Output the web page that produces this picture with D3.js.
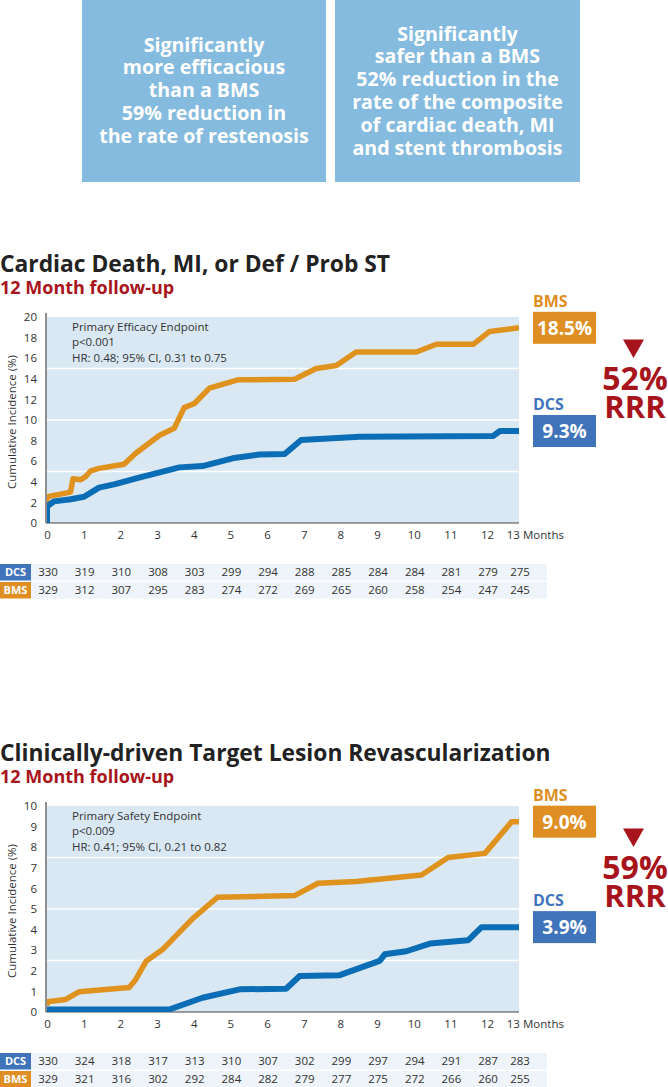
<!DOCTYPE html>
<html><head><meta charset="utf-8">
<script src="https://cdn.jsdelivr.net/npm/d3@7"></script>
<style>
body{margin:0;background:#fff;}
svg text{font-family:"Open Sans",sans-serif;}
</style>
</head><body>
<svg id="chart" width="668" height="1087"></svg>
<script>
// ---------- data ----------
const summaryLeft = ["Significantly","more efficacious","than a BMS","59% reduction in","the rate of restenosis"];
const summaryRight = ["Significantly","safer than a BMS","52% reduction in the","rate of the composite","of cardiac death, MI","and stent thrombosis"];

const monthTicks = [0,1,2,3,4,5,6,7,8,9,10,11,12,12.7];
const monthTickLabels = ["0","1","2","3","4","5","6","7","8","9","10","11","12","13"];
const monthMax = 12.87;

// Chart 1: Cardiac Death, MI, or Def / Prob ST
const title1 = "Cardiac Death, MI, or Def / Prob ST";
const subtitle1 = "12 Month follow-up";
const notes1 = ["Primary Efficacy Endpoint","p<0.001","HR: 0.48; 95% CI, 0.31 to 0.75"];
const yTicks1 = [0,2,4,6,8,10,12,14,16,18,20];
const grid1 = [5,10,15];
const bms1 = [[0,1.8],[0,2.55],[0.64,3.0],[0.71,4.3],[0.92,4.2],[1.05,4.5],[1.19,5.05],[1.42,5.3],[2.1,5.7],[2.42,6.77],[3.06,8.5],[3.47,9.2],[3.74,11.2],[4.02,11.6],[4.43,13.1],[5.2,13.9],[6.75,13.95],[7.34,15.0],[7.89,15.3],[8.43,16.6],[10.07,16.6],[10.62,17.35],[11.62,17.35],[12.07,18.6],[12.87,18.95]];
const dcs1 = [[0,0],[0,1.6],[0.19,2.1],[0.65,2.3],[1.01,2.55],[1.42,3.43],[1.83,3.75],[2.51,4.4],[3.61,5.4],[4.24,5.53],[5.06,6.28],[5.79,6.65],[6.48,6.7],[6.93,8.06],[8.52,8.38],[12.17,8.45],[12.35,8.93],[12.87,8.93]];
const bmsLabel1 = "18.5%";
const dcsLabel1 = "9.3%";
const rrr1 = "52%";
const atRiskDcs1 = [330,319,310,308,303,299,294,288,285,284,284,281,279,275];
const atRiskBms1 = [329,312,307,295,283,274,272,269,265,260,258,254,247,245];

// Chart 2: Clinically-driven TLR
const title2 = "Clinically-driven Target Lesion Revascularization";
const subtitle2 = "12 Month follow-up";
const notes2 = ["Primary Safety Endpoint","p<0.009","HR: 0.41; 95% CI, 0.21 to 0.82"];
const yTicks2 = [0,1,2,3,4,5,6,7,8,9,10];
const grid2 = [2.5,5,7.5];
const bms2 = [[0,0.3],[0,0.5],[0.51,0.61],[0.87,0.98],[2.24,1.19],[2.42,1.58],[2.7,2.46],[3.15,3.03],[3.97,4.53],[4.65,5.57],[6.75,5.65],[7.39,6.25],[8.43,6.34],[10.21,6.65],[10.94,7.5],[11.94,7.7],[12.67,9.24],[12.87,9.24]];
const dcs2 = [[0,0.12],[3.33,0.12],[4.24,0.69],[5.25,1.1],[6.52,1.13],[6.89,1.75],[7.98,1.79],[9.07,2.48],[9.21,2.8],[9.8,2.95],[10.44,3.32],[11.48,3.48],[11.85,4.12],[12.87,4.12]];
const bmsLabel2 = "9.0%";
const dcsLabel2 = "3.9%";
const rrr2 = "59%";
const atRiskDcs2 = [330,324,318,317,313,310,307,302,299,297,294,291,287,283];
const atRiskBms2 = [329,321,316,302,292,284,282,279,277,275,272,266,260,255];

// ---------- style ----------
const C = {
  box: "#85BBDE", orange: "#E0921E", orangeBox: "#DE8E22", blue: "#0A6DB5", blueBox: "#3F74BA",
  red: "#A8141B", plotBg: "#D9E8F3", text: "#333", title: "#222", rowBg: "#EEF4F9"
};

const svg = d3.select("#chart");

// ---------- summary boxes ----------
function summaryBox(lines, x0, x1, firstBaseline) {
  svg.append("rect").attr("x", x0).attr("y", 0).attr("width", x1 - x0).attr("height", 182).attr("fill", C.box);
  svg.append("text").attr("x", (x0 + x1) / 2).attr("y", firstBaseline)
    .attr("text-anchor", "middle").attr("fill", "#fff").attr("font-weight", 700).attr("font-size", 19.6)
    .selectAll("tspan").data(lines).join("tspan")
    .attr("x", (x0 + x1) / 2).attr("dy", (d, i) => i === 0 ? 0 : 22.8).text(d => d);
}
summaryBox(summaryLeft, 82, 326, 51.5);
summaryBox(summaryRight, 335, 580, 40.5);

// ---------- chart ----------
const x = d3.scaleLinear().domain([0, monthMax]).range([47, 519]);

function drawChart(cfg, dy) {
  const g = svg.append("g").attr("transform", `translate(0,${dy})`);
  const y = d3.scaleLinear().domain([0, cfg.yMax]).range([523, 317]);

  g.append("text").attr("x", 0).attr("y", 272).attr("font-size", 22.8).attr("font-weight", 700)
    .attr("fill", C.title).text(cfg.title);
  g.append("text").attr("x", 0).attr("y", 294).attr("font-size", 18).attr("font-weight", 700)
    .attr("fill", C.red).text(cfg.subtitle);

  g.append("rect").attr("x", x(0)).attr("y", y(cfg.yMax)).attr("width", x(monthMax) - x(0))
    .attr("height", y(0) - y(cfg.yMax)).attr("fill", C.plotBg);

  g.selectAll("line.grid").data(cfg.grid).join("line").attr("class", "grid")
    .attr("x1", x(0)).attr("x2", x(monthMax)).attr("y1", d => y(d)).attr("y2", d => y(d))
    .attr("stroke", "#fff").attr("stroke-width", 1.6);

  g.append("g").selectAll("text").data(cfg.notes).join("text")
    .attr("x", 72).attr("y", (d, i) => y(cfg.yMax) + 13.5 + i * 15.5)
    .attr("font-size", 11.5).attr("fill", C.text).text(d => d);

  // axes
  const yAxis = d3.axisLeft(y).tickValues(cfg.yTicks).tickSize(0).tickPadding(9);
  const ya = g.append("g").attr("transform", "translate(46,0)").call(yAxis);
  ya.select(".domain").attr("stroke", "#444").attr("stroke-width", 1.2).attr("d", `M0,${y(cfg.yMax) - 4}V${y(0)}`);
  ya.selectAll("text").attr("font-size", 11.5).attr("fill", C.text).attr("font-family", "Open Sans");

  const xAxis = d3.axisBottom(x).tickValues(monthTicks).tickSize(0).tickPadding(8)
    .tickFormat((d, i) => monthTickLabels[i]);
  const xa = g.append("g").attr("transform", `translate(0,${y(0)})`).call(xAxis);
  xa.select(".domain").attr("stroke", "#444").attr("stroke-width", 1.2).attr("d", `M46,0H${x(monthMax)}`);
  xa.selectAll("text").attr("font-size", 11.5).attr("fill", C.text).attr("font-family", "Open Sans");
  g.append("text").attr("x", 523).attr("y", y(0) + 16).attr("font-size", 11.5).attr("fill", C.text).text("Months");

  g.append("text").attr("transform", `translate(16,${(y(0) + y(cfg.yMax)) / 2 + 2}) rotate(-90)`)
    .attr("text-anchor", "middle").attr("font-size", 11.5).attr("fill", C.text).text("Cumulative Incidence (%)");

  // lines
  const line = d3.line().x(d => x(d[0])).y(d => y(d[1]));
  const clipId = "clip" + dy;
  g.append("clipPath").attr("id", clipId).append("rect")
    .attr("x", x(0)).attr("y", y(cfg.yMax) - 5).attr("width", x(monthMax) - x(0)).attr("height", y(0) - y(cfg.yMax) + 5);
  const lg = g.append("g").attr("clip-path", `url(#${clipId})`);
  lg.append("path").datum(cfg.bms).attr("d", line).attr("fill", "none").attr("stroke", C.orange)
    .attr("stroke-width", 5.5).attr("stroke-linejoin", "round");
  lg.append("path").datum(cfg.dcs).attr("d", line).attr("fill", "none").attr("stroke", C.blue)
    .attr("stroke-width", 6).attr("stroke-linejoin", "round");

  // end labels
  const endBox = (name, val, lastVal, color) => {
    const cy = y(lastVal);
    g.append("text").attr("x", 533).attr("y", cy - 21).attr("font-size", 16).attr("font-weight", 700)
      .attr("fill", color).text(name);
    g.append("rect").attr("x", 533).attr("y", cy - 16).attr("width", 63).attr("height", 32).attr("fill", color);
    g.append("text").attr("x", 564.5).attr("y", cy + 7).attr("text-anchor", "middle").attr("font-size", 19)
      .attr("font-weight", 700).attr("fill", "#fff").text(val);
  };
  endBox("BMS", cfg.bmsLabel, cfg.bms[cfg.bms.length - 1][1], C.orangeBox);
  endBox("DCS", cfg.dcsLabel, cfg.dcs[cfg.dcs.length - 1][1], C.blueBox);

  g.append("path").attr("d", "M623,339.5L644,339.5L633.5,358Z").attr("fill", C.red);
  g.append("text").attr("x", 635).attr("y", 390).attr("text-anchor", "middle").attr("font-size", 32)
    .attr("font-weight", 700).attr("fill", C.red).text(cfg.rrr);
  g.append("text").attr("x", 635).attr("y", 418).attr("text-anchor", "middle").attr("font-size", 31)
    .attr("font-weight", 700).attr("fill", C.red).text("RRR");

  // at-risk table
  const cols = monthTicks.map((d, i) => i < monthTicks.length - 1 ? x(d) : x(monthMax));
  const rows = [{name: "DCS", vals: cfg.atDcs, color: C.blueBox, top: 564}, {name: "BMS", vals: cfg.atBms, color: C.orangeBox, top: 582}];
  rows.forEach(r => {
    g.append("rect").attr("x", 31).attr("y", r.top).attr("width", 516).attr("height", 16.5).attr("fill", C.rowBg);
    g.append("rect").attr("x", 0).attr("y", r.top).attr("width", 31).attr("height", 16.5).attr("fill", r.color);
    g.append("text").attr("x", 15.5).attr("y", r.top + 12).attr("text-anchor", "middle").attr("font-size", 11)
      .attr("font-weight", 700).attr("fill", "#fff").text(r.name);
    g.append("g").selectAll("text").data(r.vals).join("text")
      .attr("x", (d, i) => cols[i] + 1).attr("y", r.top + 12.3).attr("text-anchor", "middle")
      .attr("font-size", 11.5).attr("fill", C.text).text(d => d);
  });
}

drawChart({title: title1, subtitle: subtitle1, notes: notes1, yMax: 20, yTicks: yTicks1, grid: grid1,
  bms: bms1, dcs: dcs1, bmsLabel: bmsLabel1, dcsLabel: dcsLabel1, rrr: rrr1, atDcs: atRiskDcs1, atBms: atRiskBms1}, 0);
drawChart({title: title2, subtitle: subtitle2, notes: notes2, yMax: 10, yTicks: yTicks2, grid: grid2,
  bms: bms2, dcs: dcs2, bmsLabel: bmsLabel2, dcsLabel: dcsLabel2, rrr: rrr2, atDcs: atRiskDcs2, atBms: atRiskBms2}, 489);
</script>
</body></html>
